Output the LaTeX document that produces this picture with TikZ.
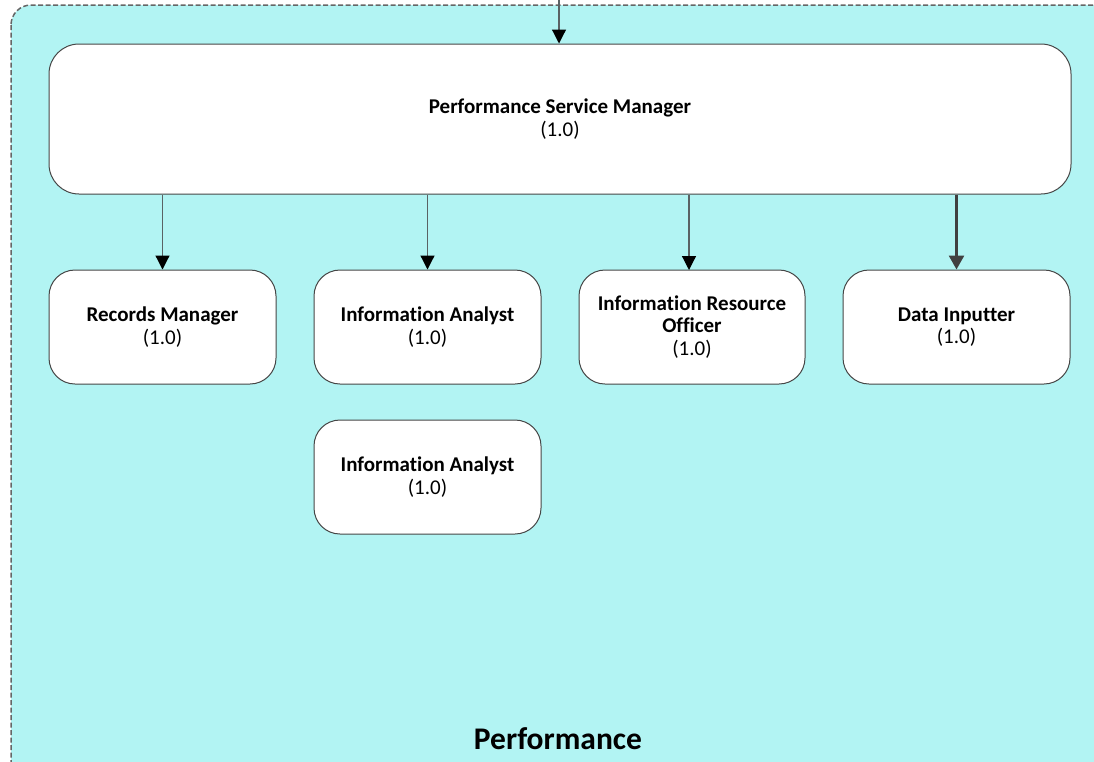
\documentclass[tikz,border=0pt]{standalone}
\usepackage{fontspec}
\setmainfont{Carlito}[Ligatures=NoCommon]
\usetikzlibrary{arrows.meta}
\definecolor{poolfill}{RGB}{178,244,243}
\definecolor{edgegray}{RGB}{90,98,100}
\definecolor{boxgray}{RGB}{70,70,70}
\tikzset{
  pool/.style={draw=black!60, fill=poolfill, line width=1.5pt, dash pattern=on 5pt off 2.5pt, rounded corners=20pt},
  role/.style={draw=boxgray, fill=white, line width=1pt, rounded corners=26pt, inner sep=0pt,
    align=center, font=\fontsize{21}{22.5}\selectfont},
  link/.style={draw=edgegray, line width=1.2pt, -{Triangle[length=14pt,width=14pt,black]}},
  boldlink/.style={draw=black!75, line width=2.6pt, -{Triangle[length=14pt,width=15pt]}}
}
\begin{document}
\begin{tikzpicture}[x=1pt,y=-1pt]
\useasboundingbox (0,0) rectangle (1094,761);
% swim-lane container, partly running off the page
\begin{scope}
  \clip (0,0) rectangle (1094,761);
  \path[pool] (11,5) rectangle (1120,795);
\end{scope}

% manager
\node[role, rounded corners=30pt, minimum width=1022pt, minimum height=150pt] (psm) at (560,119)
  {\textbf{Performance Service Manager}\\(1.0)};

% team roles
\node[role, minimum width=227pt, minimum height=114pt] (rm)  at (162.5,327) {\textbf{Records Manager}\\(1.0)};
\node[role, minimum width=227pt, minimum height=114pt] (ia1) at (427.5,327) {\textbf{Information Analyst}\\(1.0)};
\node[role, minimum width=226pt, minimum height=114pt] (iro) at (692,327) {\textbf{Information Resource}\\\textbf{Officer}\\(1.0)};
\node[role, minimum width=227pt, minimum height=114pt] (di)  at (956.5,327) {\textbf{Data Inputter}\\(1.0)};
\node[role, minimum width=227pt, minimum height=114pt] (ia2) at (427.5,477) {\textbf{Information Analyst}\\(1.0)};

% lane label
\node[font=\fontsize{31.5}{34}\selectfont\bfseries] (lane) at (558,739) {Performance};

% connectors
\coordinate (entry) at (559,0);
\draw[link] (entry) -- (entry |- psm.north);
\draw[link] (rm.north |- psm.south) -- (rm.north);
\draw[link] (ia1.north |- psm.south) -- (ia1.north);
\coordinate (iroin) at (689,270);
\draw[link] (iroin |- psm.south) -- (iroin);
\draw[boldlink] (di.north |- psm.south) -- (di.north);
\end{tikzpicture}
\end{document}
